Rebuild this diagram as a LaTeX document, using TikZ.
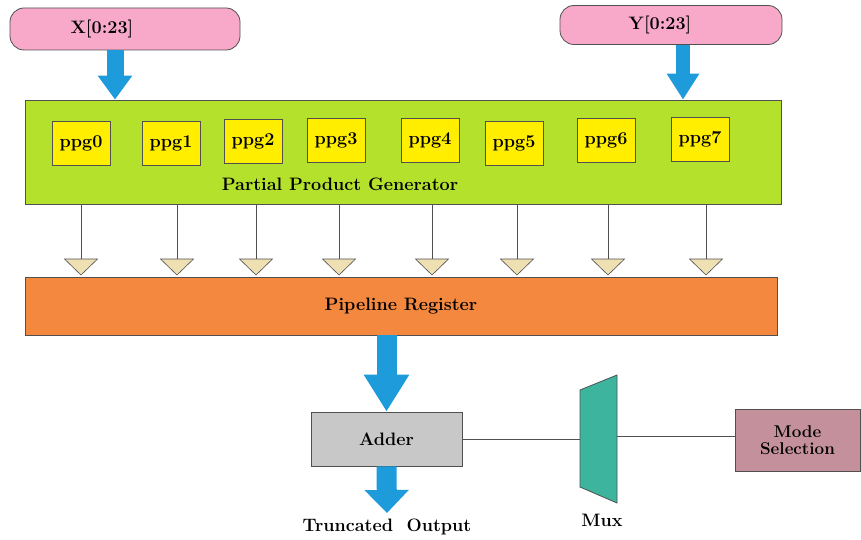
\documentclass[tikz,border=0pt]{standalone}
\usepackage{tikz}
\usetikzlibrary{arrows.meta}

\definecolor{inpink}{HTML}{F8A9C9}
\definecolor{ppggreen}{HTML}{B4E22C}
\definecolor{ppgyellow}{HTML}{FFEE00}
\definecolor{regorange}{HTML}{F5883F}
\definecolor{addgray}{HTML}{C8C8C8}
\definecolor{muxteal}{HTML}{3DB59E}
\definecolor{modemauve}{HTML}{C4909C}
\definecolor{arrowblue}{HTML}{1E9BDB}
\definecolor{tritan}{HTML}{EFE0B4}
\definecolor{edgegray}{HTML}{505050}

\tikzset{
  every node/.style={font=\bfseries\fontsize{18}{20}\selectfont},
  block/.style={draw=edgegray, line width=0.8pt, inner sep=0pt},
  inbox/.style={block, fill=inpink, rounded corners=14pt},
  ppgbox/.style={block, fill=ppgyellow, minimum width=58pt, minimum height=44pt},
  tri/.style={draw=edgegray, line width=0.6pt, fill=tritan},
  bigarrow/.style={draw=arrowblue, line width=#1, line cap=butt},
}

\begin{document}
\begin{tikzpicture}[x=1pt, y=-1pt]
	\useasboundingbox (0,0) rectangle (861,540);
	\node[inbox, minimum width=230pt, minimum height=42pt] (xin)at(125, 29) {};
	\node (xlabel)at(102, 29) {X[0:23]};
	\node[inbox, minimum width=222pt, minimum height=39pt] (yin)at(671, 25) {};
	\node (ylabel)at(660, 25) {Y[0:23]};
	\node[block, fill=ppggreen, minimum width=756pt, minimum height=104pt] (ppgen)at(403, 152) {};
	\node (pplabel)at(340, 184) {Partial Product Generator};
	\foreach \i/\x/\y in {0/81/143, 1/171/143, 2/253/141, 3/336/140, 4/430/140.5, 5/514/143, 6/606/140, 7/700/139.5}
		\node[ppgbox] (ppg\i)at(\x, \y) {ppg\i};
	\node[block, fill=regorange, minimum width=752pt, minimum height=58pt] (pipereg)at(401, 306) {Pipeline Register};
	\node[block, fill=addgray, minimum width=151pt, minimum height=54pt] (adder)at(386.5, 439) {Adder};
	\node[block, fill=modemauve, minimum width=125pt, minimum height=62pt, align=center, font=\bfseries\fontsize{17}{17}\selectfont] (modesel)at(797.5, 440) {Mode\\Selection};
	\node (muxlabel)at(602, 520) {Mux};
	\node[anchor=north, inner sep=6pt] (out)at(387, 513) {Truncated\ \ Output};
	% mux body
	\draw[draw=edgegray, line width=0.8pt, fill=muxteal] (580, 390) -- (617, 375) -- (617, 503) -- (580, 487) -- cycle;
	\coordinate (muxl) at (580, 439);
	\coordinate (muxr) at (617, 436);
	% inputs
	\draw[bigarrow=17pt, -{Triangle[length=24pt, width=33pt]}] ([xshift=-10pt]xin.south) -- ([xshift=-10pt]xin.south |- ppgen.north);
	\draw[bigarrow=14pt, -{Triangle[length=26pt, width=31pt]}] ([xshift=12pt]yin.south) -- ([xshift=12pt]yin.south |- ppgen.north);
	% partial products into the register
	\foreach \i/\x in {0/81, 1/177, 2/256, 3/339, 4/432, 5/517, 6/608, 7/706} {
		\coordinate (v\i) at (\x, 259);
		\draw[draw=edgegray, line width=0.8pt] (ppgen.south -| v\i) -- (v\i);
		\draw[tri] (v\i) ++(-16.5, 0) -- ++(33, 0) -- ++(-16.5, 16) -- cycle;
	}
	\draw[bigarrow=20pt, -{Triangle[length=37pt, width=43pt]}] (adder.north |- pipereg.south) -- (adder.north);
	\draw[bigarrow=20pt, -{Triangle[length=23pt, width=43pt]}] (adder.south) -- (out.north);
	\draw[draw=edgegray, line width=0.8pt] (adder.east) -- (muxl);
	\draw[draw=edgegray, line width=0.8pt] (muxr) -- (muxr -| modesel.west);
\end{tikzpicture}
\end{document}
